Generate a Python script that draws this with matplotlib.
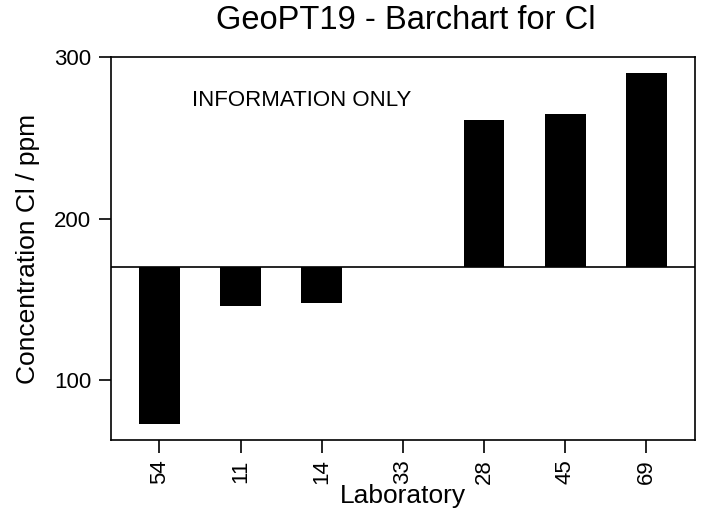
import matplotlib
matplotlib.use("Agg")
import matplotlib.pyplot as plt

plt.rcParams["font.family"] = ["Liberation Sans", "DejaVu Sans"]

labs = ["54", "11", "14", "33", "28", "45", "69"]
values = [73, 146, 148, 170.3, 261, 265, 290]
assigned = 170.3

fig = plt.figure(figsize=(7.05, 5.11), dpi=100)
ax = fig.add_axes([0.157, 0.139, 0.829, 0.749])

x = list(range(len(labs)))
heights = [v - assigned for v in values]
ax.bar(x, heights, bottom=assigned, width=0.5, color="black")
ax.axhline(assigned, color="black", linewidth=1.2)

ax.set_xlim(-0.6, 6.6)
ax.set_ylim(63, 300)
ax.set_xticks(x)
ax.set_xticklabels(labs, rotation=90, fontsize=16)
ax.set_yticks([100, 200, 300])
ax.tick_params(axis="y", labelsize=16, length=9, width=1.2, direction="out", pad=5)
ax.tick_params(axis="x", length=9, width=1.2, direction="out", pad=5)
for s in ax.spines.values():
    s.set_linewidth(1.2)

ax.text(0.4, 273, "INFORMATION ONLY", fontsize=16, va="center", ha="left")
ax.set_xlabel("Laboratory", fontsize=19, labelpad=0)
ax.set_ylabel("Concentration Cl / ppm", fontsize=19, labelpad=10)
fig.suptitle("GeoPT19 - Barchart for Cl", fontsize=23.5, x=0.575, y=0.99)

fig.savefig("out.png", dpi=100)
